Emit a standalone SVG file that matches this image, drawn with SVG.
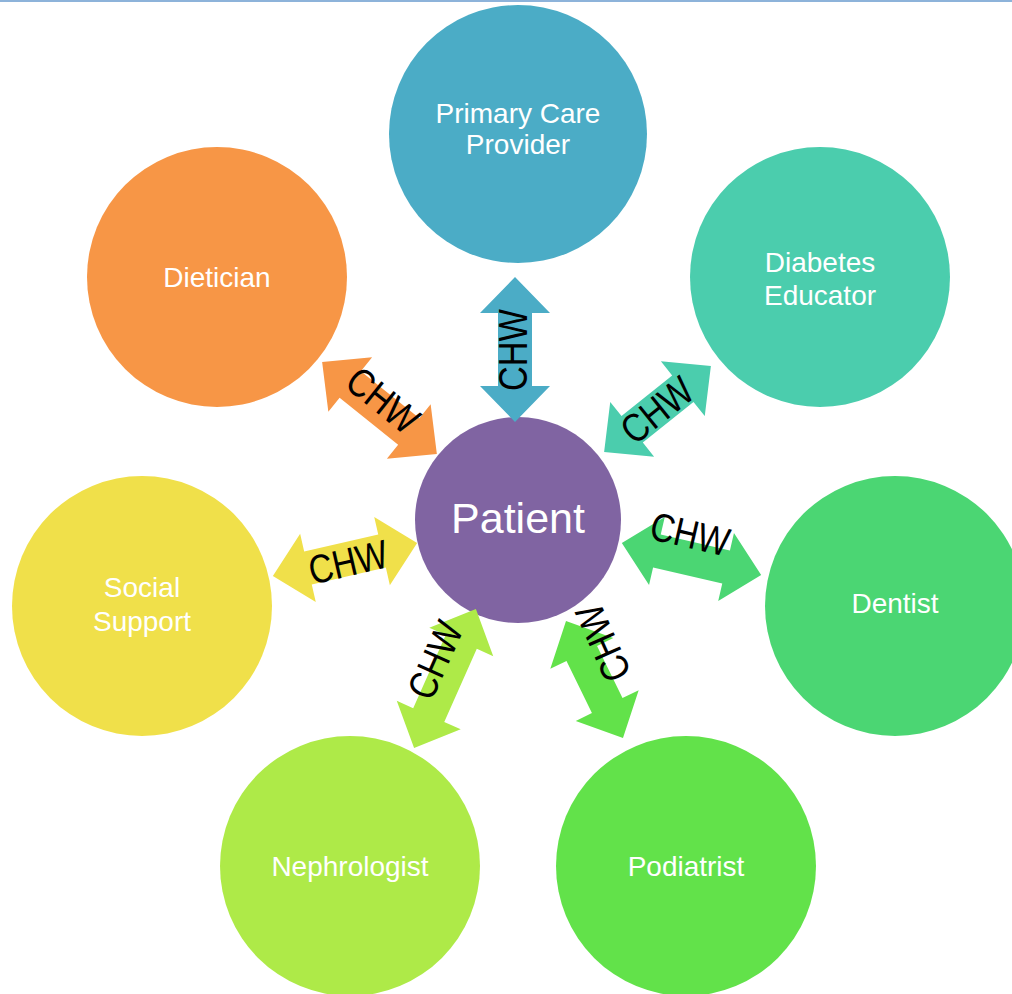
<svg xmlns="http://www.w3.org/2000/svg" width="1012" height="994" viewBox="0 0 1012 994">
<style>
.lbl{font-family:"Liberation Sans",Arial,sans-serif;font-size:28px;fill:#ffffff;text-anchor:middle}
.big{font-size:43px}
.chw{font-family:"Liberation Sans",Arial,sans-serif;font-size:40px;fill:#000000;text-anchor:middle}
</style>
<rect x="0" y="0" width="1012" height="994" fill="#ffffff"/>
<line x1="0" y1="1" x2="1012" y2="1" stroke="#8DB3DA" stroke-width="2"/>
<g id="node-primary-care">
<circle cx="518" cy="134" r="129" fill="#4BACC6"/>
<text class="lbl" x="518" y="123">Primary Care</text>
<text class="lbl" x="518" y="154">Provider</text>
</g>
<g id="node-dietician">
<circle cx="217" cy="277" r="130" fill="#F79646"/>
<text class="lbl" x="217" y="287">Dietician</text>
</g>
<g id="node-diabetes-educator">
<circle cx="820" cy="277" r="130" fill="#4BCDAD"/>
<text class="lbl" x="820" y="272">Diabetes</text>
<text class="lbl" x="820" y="305">Educator</text>
</g>
<g id="node-social-support">
<circle cx="142" cy="606" r="130" fill="#F0E04A"/>
<text class="lbl" x="142" y="597">Social</text>
<text class="lbl" x="142" y="631">Support</text>
</g>
<g id="node-dentist">
<circle cx="895" cy="606" r="130" fill="#4BD673"/>
<text class="lbl" x="895" y="613">Dentist</text>
</g>
<g id="node-nephrologist">
<circle cx="350" cy="866" r="130" fill="#AEEA48"/>
<text class="lbl" x="350" y="876">Nephrologist</text>
</g>
<g id="node-podiatrist">
<circle cx="686" cy="866" r="130" fill="#62E24A"/>
<text class="lbl" x="686" y="876">Podiatrist</text>
</g>
<g id="node-patient">
<circle cx="518" cy="520" r="103" fill="#8064A2"/>
<text class="lbl big" x="518" y="533">Patient</text>
</g>
<g id="connectors">
<g id="arrow-primary" transform="translate(515,349.5) rotate(90)">
<path fill="#4BACC6" d="M -72.5 0 L -36.5 -35 L -36.5 -17 L 36.5 -17 L 36.5 -35 L 72.5 0 L 36.5 35 L 36.5 17 L -36.5 17 L -36.5 35 Z"/>
</g>
<g id="arrow-dietician" transform="translate(379.5,408) rotate(38.7)">
<path fill="#F79646" d="M -73.5 0 L -37.5 -35 L -37.5 -17 L 37.5 -17 L 37.5 -35 L 73.5 0 L 37.5 35 L 37.5 17 L -37.5 17 L -37.5 35 Z"/>
</g>
<g id="arrow-educator" transform="translate(657.5,409) rotate(-38.8)">
<path fill="#4BCDAD" d="M -68.5 0 L -32.5 -35 L -32.5 -17 L 32.5 -17 L 32.5 -35 L 68.5 0 L 32.5 35 L 32.5 17 L -32.5 17 L -32.5 35 Z"/>
</g>
<g id="arrow-social" transform="translate(345,559.5) rotate(-12.9)">
<path fill="#F0E04A" d="M -74 0 L -38 -35 L -38 -17 L 38 -17 L 38 -35 L 74 0 L 38 35 L 38 17 L -38 17 L -38 35 Z"/>
</g>
<g id="arrow-dentist" transform="translate(691.5,559) rotate(13)">
<path fill="#4BD673" d="M -71.5 0 L -35.5 -35 L -35.5 -17 L 35.5 -17 L 35.5 -35 L 71.5 0 L 35.5 35 L 35.5 17 L -35.5 17 L -35.5 35 Z"/>
</g>
<g id="arrow-nephrologist" transform="translate(445,678.5) rotate(-66)">
<path fill="#AEEA48" d="M -76 0 L -40 -35 L -40 -17 L 40 -17 L 40 -35 L 76 0 L 40 35 L 40 17 L -40 17 L -40 35 Z"/>
</g>
<g id="arrow-podiatrist" transform="translate(594.5,679.5) rotate(64)">
<path fill="#62E24A" d="M -65 0 L -29 -35 L -29 -17 L 29 -17 L 29 -35 L 65 0 L 29 35 L 29 17 L -29 17 L -29 35 Z"/>
</g>
<text class="chw" transform="translate(513,350) rotate(-90)" x="0" y="14" textLength="82" lengthAdjust="spacingAndGlyphs">CHW</text>
<text class="chw" transform="translate(383,400) rotate(38.7)" x="0" y="14" textLength="80" lengthAdjust="spacingAndGlyphs">CHW</text>
<text class="chw" transform="translate(657,410) rotate(-38.8)" x="0" y="14" textLength="80" lengthAdjust="spacingAndGlyphs">CHW</text>
<text class="chw" transform="translate(348,562) rotate(-13)" x="0" y="14" textLength="80" lengthAdjust="spacingAndGlyphs">CHW</text>
<text class="chw" transform="translate(690,534) rotate(13)" x="0" y="14" textLength="80" lengthAdjust="spacingAndGlyphs">CHW</text>
<text class="chw" transform="translate(435,660) rotate(-66)" x="0" y="14" textLength="80" lengthAdjust="spacingAndGlyphs">CHW</text>
<text class="chw" transform="translate(603,643) rotate(-114)" x="0" y="14" textLength="80" lengthAdjust="spacingAndGlyphs">CHW</text>
</g>
</svg>
